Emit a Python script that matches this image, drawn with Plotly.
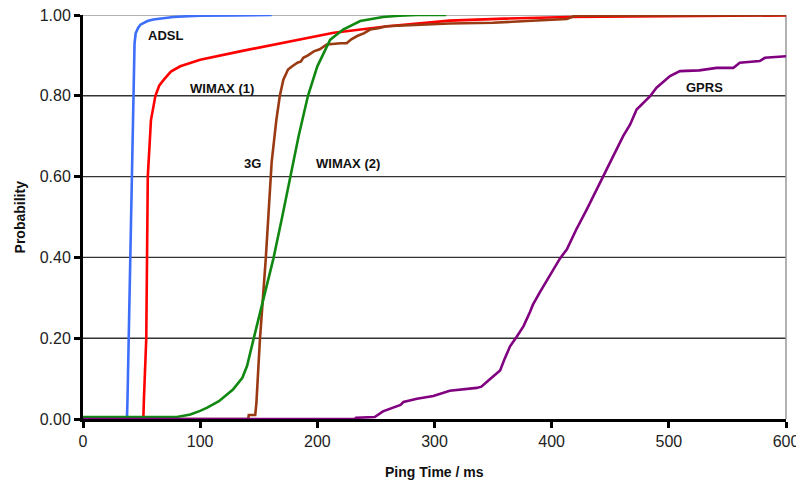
import plotly.graph_objects as go

# ---- data (ping time in ms, cumulative probability) ----
adsl_x = [0, 37.5, 38, 39, 41.3, 42.8, 44, 45, 47, 49, 55, 60, 70, 77, 90, 100, 130, 161]
adsl_y = [0, 0, 0.05, 0.2, 0.6, 0.8, 0.93, 0.955, 0.968, 0.976, 0.985, 0.989, 0.993, 0.995, 0.997, 0.998, 0.999, 1.0]

wimax1_x = [0, 51.5, 52, 54, 55.3, 58, 61.8, 65, 69, 75, 83, 100, 134, 185, 214, 260, 313, 360, 415, 600]
wimax1_y = [0, 0, 0.05, 0.2, 0.6, 0.74, 0.8, 0.825, 0.84, 0.86, 0.873, 0.889, 0.91, 0.939, 0.956, 0.972, 0.986, 0.991, 0.995, 0.999]

g3_x = [0, 141, 141.5, 147, 148, 151, 156, 160, 161, 165, 168, 171, 175, 178, 183, 186, 188, 192, 197, 202,
        208, 220, 225, 229, 234, 240, 245, 252, 259, 313, 350, 379, 413, 420, 600]
g3_y = [0, 0, 0.01, 0.01, 0.04, 0.197, 0.397, 0.593, 0.635, 0.74, 0.8, 0.84, 0.865, 0.872, 0.882, 0.885, 0.894, 0.9, 0.91, 0.915,
        0.927, 0.93, 0.93, 0.94, 0.948, 0.955, 0.964, 0.967, 0.972, 0.979, 0.981, 0.985, 0.99, 0.998, 1.0]

wimax2_x = [0, 80, 86, 91.6, 100, 106, 116, 122, 128, 136, 140, 145.5, 154, 162.5, 170, 178, 184, 192, 200,
            211, 222, 236.6, 256, 270, 285, 310]
wimax2_y = [0.005, 0.005, 0.008, 0.011, 0.02, 0.028, 0.044, 0.058, 0.073, 0.102, 0.131, 0.197, 0.3, 0.397, 0.5, 0.61, 0.7, 0.8, 0.873,
            0.939, 0.964, 0.985, 0.995, 0.998, 1.0, 1.0]

gprs_x = [0, 232, 233, 249, 256, 264, 271, 273.5, 285, 299, 313, 336, 340, 347, 356, 360, 364.5, 370, 376, 381.5, 384, 390,
          398.6, 407, 413, 421, 430, 435.5, 441, 450, 461, 467, 472.5, 484, 489.5, 501, 509.5, 526, 540.7, 555, 560.5,
          577.6, 582, 600]
gprs_y = [0, 0, 0.003, 0.005, 0.019, 0.028, 0.035, 0.042, 0.05, 0.057, 0.07, 0.077, 0.08, 0.098, 0.12, 0.15, 0.18, 0.203, 0.23, 0.265, 0.283, 0.314,
          0.355, 0.397, 0.42, 0.469, 0.519, 0.551, 0.58, 0.635, 0.70, 0.729, 0.766, 0.799, 0.82, 0.849, 0.861, 0.863, 0.869, 0.869, 0.882,
          0.886, 0.894, 0.898]

series_names = ["ADSL", "WIMAX (1)", "3G", "WIMAX (2)", "GPRS"]
series_x = [adsl_x, wimax1_x, g3_x, wimax2_x, gprs_x]
series_y = [adsl_y, wimax1_y, g3_y, wimax2_y, gprs_y]
series_colors = ["#3D6EFA", "#FF0000", "#9A3A12", "#118811", "#800080"]

x_ticks = [0, 100, 200, 300, 400, 500, 600]
y_ticks = [0.0, 0.2, 0.4, 0.6, 0.8, 1.0]

# label positions (data coordinates)
label_pos = {
    "ADSL": (70, 0.949),
    "WIMAX (1)": (118.5, 0.819),
    "3G": (144.5, 0.632),
    "WIMAX (2)": (226, 0.632),
    "GPRS": (530.5, 0.82),
}

font_fam = "Liberation Sans, Arial"

fig = go.Figure()
for name, xs, ys, col in zip(series_names, series_x, series_y, series_colors):
    fig.add_trace(go.Scatter(x=xs, y=ys, mode="lines", name=name,
                             line=dict(color=col, width=2.6), showlegend=False))

for name in series_names:
    lx, ly = label_pos[name]
    fig.add_annotation(x=lx, y=ly, text=f"<b>{name}</b>", showarrow=False,
                       font=dict(family=font_fam, size=13, color="#111"),
                       xref="x", yref="y")

# axis titles
fig.add_annotation(x=0.5, y=-0.13, xref="paper", yref="paper", text="<b>Ping Time / ms</b>",
                   showarrow=False, font=dict(family=font_fam, size=14, color="#111"),
                   xanchor="center", yanchor="middle")
fig.add_annotation(x=-0.089, y=0.5, xref="paper", yref="paper", text="<b>Probability</b>",
                   showarrow=False, textangle=-90, font=dict(family=font_fam, size=14, color="#111"),
                   xanchor="center", yanchor="middle")

# horizontal gridlines (top one lighter, like the plot-area border)
shapes = []
for v in y_ticks[1:]:
    shapes.append(dict(type="line", xref="paper", yref="y", x0=0, x1=1, y0=v, y1=v,
                       line=dict(color="#999" if v >= 1.0 else "#333", width=1.4), layer="below"))
shapes.append(dict(type="line", xref="paper", yref="paper", x0=1, x1=1, y0=0, y1=1,
                   line=dict(color="#999", width=1.5), layer="below"))

# page body adds an 8px offset, so the figure is sized to 796x476
fig.update_layout(
    width=796, height=476,
    margin=dict(l=75, r=18, t=7, b=64.5),
    paper_bgcolor="white", plot_bgcolor="white",
    font=dict(family=font_fam, size=15, color="#222"),
    xaxis=dict(range=[0, 600], tickvals=x_ticks, ticktext=[str(v) for v in x_ticks],
               showgrid=False, zeroline=False, automargin=False, ticklabeloverflow="allow",
               showline=True, linecolor="black", linewidth=3,
               ticks="outside", ticklen=6, tickwidth=3, tickcolor="black",
               tickfont=dict(size=16, color="#222")),
    yaxis=dict(range=[0, 1], tickvals=y_ticks, ticktext=[f"{v:.2f}" for v in y_ticks],
               showgrid=False, zeroline=False, automargin=False, ticklabeloverflow="allow",
               showline=True, linecolor="black", linewidth=3,
               ticks="outside", ticklen=6, tickwidth=3, tickcolor="black",
               tickfont=dict(size=16, color="#222")),
    shapes=shapes,
)

fig.write_html("out.html")
